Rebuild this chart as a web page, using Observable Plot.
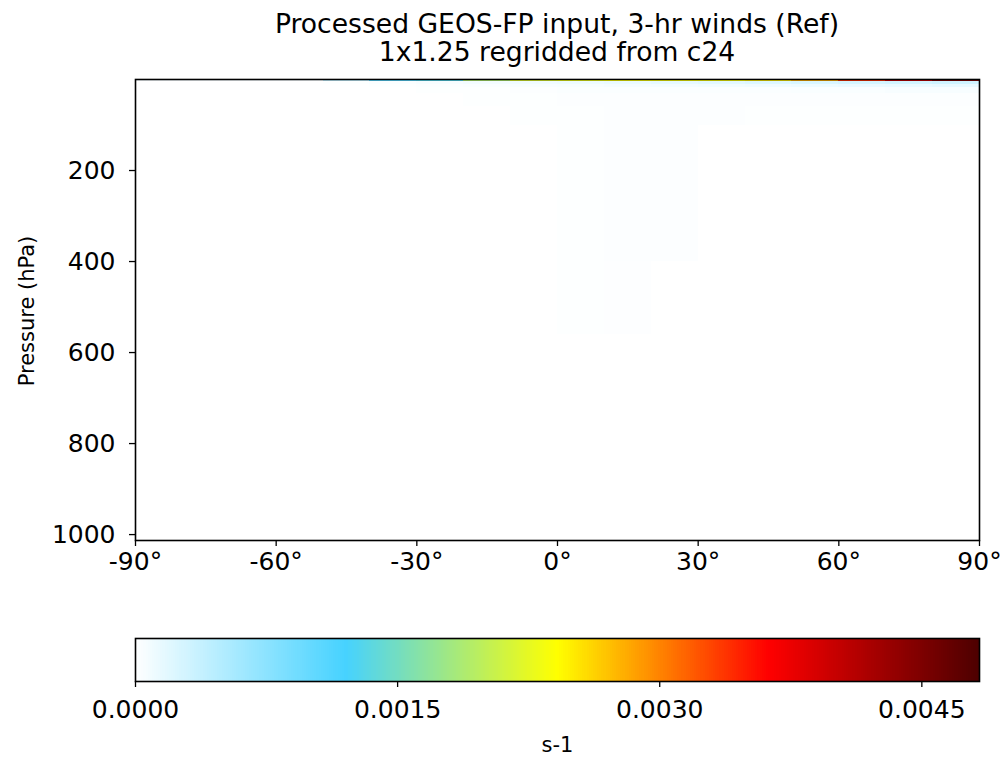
<!DOCTYPE html>
<html><head><meta charset="utf-8">
<script src="https://cdn.jsdelivr.net/npm/d3@7"></script>
<script src="https://cdn.jsdelivr.net/npm/@observablehq/plot@0.6"></script>
<style>
body{margin:0;background:#fff;font-family:"DejaVu Sans",sans-serif;}
#title{width:1006px;box-sizing:border-box;padding-left:135px;padding-right:27px;padding-top:10px;height:70px;text-align:center;font-size:26.6px;line-height:28px;color:#000;}
svg{display:block}
</style></head><body>
<div id="title">Processed GEOS-FP input, 3-hr winds (Ref)<br>1x1.25 regridded from c24</div>
<div id="main"></div>
<div id="cbar"></div>
<script>
// ---- data ----
const latEdges = [-90,-80,-70,-60,-50,-40,-30,-20,-10,0,10,20,30,40,50,60,70,80,90];
const pEdges = [0, 5, 10, 18, 30, 60, 100, 250, 400, 560, 1013];
// values (s-1) per pressure layer, one value per 10-degree latitude band (-90 -> 90)
const layer_0_5     = [0.00005,0.00005,0.00005,0.00005,0.0004,0.0011,0.0013,0.0019,0.0022,0.0023,0.0024,0.0024,0.0024,0.0025,0.0028,0.0034,0.0040,0.0045];
const layer_5_10    = [0,0,0,0,0.00001,0.00003,0.00005,0.00008,0.0001,0.00012,0.00014,0.00016,0.00019,0.00022,0.00025,0.00028,0.0003,0.00032];
const layer_10_18   = [0,0,0,0,0,0.00001,0.00002,0.00003,0.00005,0.00006,0.00007,0.00008,0.00009,0.0001,0.00012,0.00013,0.00014,0.00015];
const layer_18_30   = [0,0,0,0,0,0,0.00001,0.00001,0.00002,0.00003,0.00003,0.00003,0.00003,0.00003,0.00004,0.00004,0.00005,0.00005];
const layer_30_60   = [0,0,0,0,0,0,0,0.00001,0.00001,0.00002,0.00002,0.00002,0.00002,0.00002,0.00002,0.00002,0.00002,0.00002];
const layer_60_100  = [0,0,0,0,0,0,0,0,0.00001,0.00001,0.00002,0.00002,0.00002,0.00001,0.00001,0.00001,0.00001,0.00001];
const layer_100_250 = [0,0,0,0,0,0,0,0,0,0.00001,0.00002,0.00002,0,0,0,0,0,0];
const layer_250_400 = [0,0,0,0,0,0,0,0,0,0.00001,0.00002,0.00002,0,0,0,0,0,0];
const layer_400_560 = [0,0,0,0,0,0,0,0,0,0.00001,0.000015,0,0,0,0,0,0,0];
const layer_560_sfc = [0,0,0,0,0,0,0,0,0,0,0,0,0,0,0,0,0,0];
const layers = [layer_0_5,layer_5_10,layer_10_18,layer_18_30,layer_30_60,layer_60_100,layer_100_250,layer_250_400,layer_400_560,layer_560_sfc];

const xTicks = [-90,-60,-30,0,30,60,90];
const yTicks = [200,400,600,800,1000];
const cbTicks = [0,0.0015,0.0030,0.0045];
const vmax = 0.00483;
const cStops = [0, 0.25*vmax, 0.5*vmax, 0.75*vmax, vmax];
const cColors = ["#ffffff","#46d2ff","#ffff00","#ff0000","#4d0000"];

// ---- build table ----
const cells = [];
layers.forEach((row, k) => {
  row.forEach((v, i) => {
    cells.push({lat0: latEdges[i], lat1: latEdges[i+1], p0: pEdges[k], p1: pEdges[k+1], v});
  });
});

const colorOpts = {type:"linear", domain:cStops, range:cColors, interpolate:"rgb", clamp:true};
const font = {fontFamily:"DejaVu Sans", background:"white", color:"black", overflow:"visible"};

const main = Plot.plot({
  width:1006, height:520, marginTop:9, marginBottom:50, marginLeft:135, marginRight:27,
  style: font,
  x:{domain:[-90,90]},
  y:{domain:[0,1013], reverse:true},
  color: colorOpts,
  marks:[
    Plot.rect(cells, {x1:"lat0", x2:"lat1", y1:"p0", y2:"p1", fill:"v", shapeRendering:"crispEdges"}),
    Plot.frame({stroke:"black", strokeWidth:1.6}),
    Plot.axisX({ticks:xTicks, tickFormat:d => d + "°", tickSize:6, tickPadding:6, fontSize:25, strokeWidth:1.3, label:null}),
    Plot.axisY({ticks:yTicks, tickFormat:d => String(d), tickSize:6, tickPadding:14, fontSize:25, strokeWidth:1.3, label:null}),
    Plot.text(["Pressure (hPa)"], {frameAnchor:"left", textAnchor:"middle", dx:-108, dy:1, rotate:-90, fontSize:21, fill:"black"})
  ]
});
document.getElementById("main").append(main);

const N = 400;
const ramp = d3.range(N).map(i => ({a: i*vmax/N, b: (i+1)*vmax/N, v: (i+0.5)*vmax/N}));
const cbar = Plot.plot({
  width:1006, height:174, marginTop:48, marginBottom:83, marginLeft:135, marginRight:27,
  style: font,
  x:{domain:[0,vmax]},
  y:{domain:[0,1], axis:null},
  color: colorOpts,
  marks:[
    Plot.rect(ramp, {x1:"a", x2:"b", y1:0, y2:1, fill:"v", shapeRendering:"crispEdges"}),
    Plot.frame({stroke:"black", strokeWidth:1.6}),
    Plot.axisX({ticks:cbTicks, tickFormat:d3.format(".4f"), tickSize:6, tickPadding:13, fontSize:25, strokeWidth:1.3, label:null}),
    Plot.text(["s-1"], {frameAnchor:"bottom", dy:70, fontSize:21, fill:"black"})
  ]
});
document.getElementById("cbar").append(cbar);
</script></body></html>
